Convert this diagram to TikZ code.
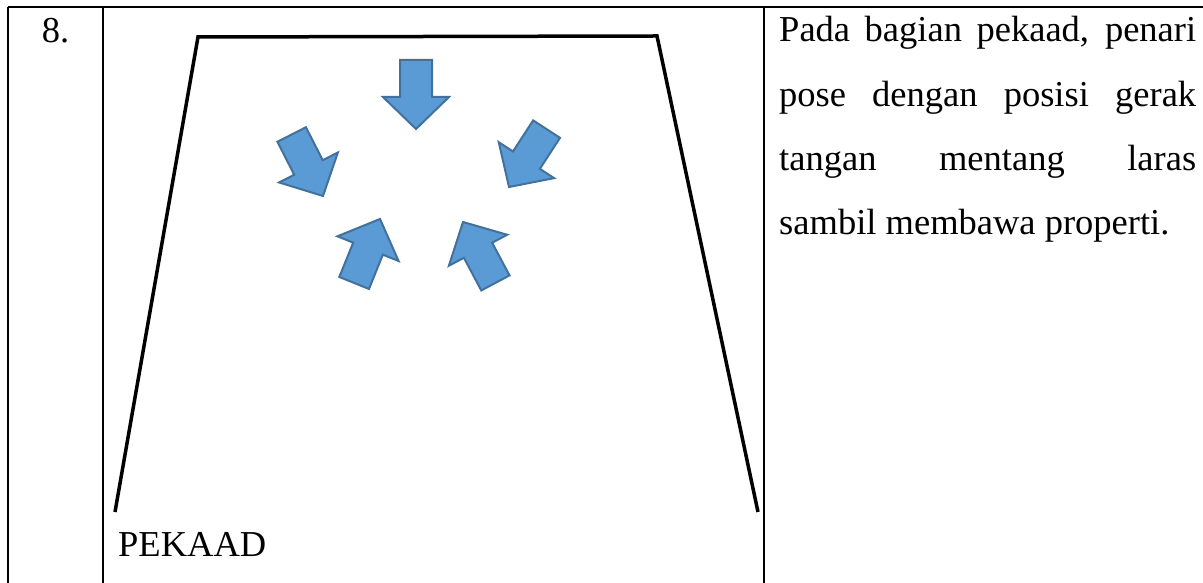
\documentclass[tikz,border=0pt]{standalone}
\usepackage{fontspec}
\setmainfont{Liberation Serif}
\definecolor{arrfill}{HTML}{5B9BD5}
\definecolor{arrline}{HTML}{41719C}
\tikzset{
  tablerule/.style={line width=2.2pt, black},
  stageline/.style={line width=3.5pt, black, line join=miter},
  arrowstyle/.style={fill=arrfill, draw=arrline, line width=2pt},
  txt/.style={inner sep=0pt, font=\fontsize{36.5}{44}\selectfont},
  inarrow/.pic={\draw[arrowstyle] (0,0) -- (-32,33) -- (-32,16) -- (-69,16) -- (-69,-16) -- (-32,-16) -- (-32,-33) -- cycle;}
}
\begin{document}
\begin{tikzpicture}[x=1pt,y=1pt]
\useasboundingbox (0,0) rectangle (1203,583);
% table rules
\coordinate (tl) at (8,576);
\coordinate (tr) at (1203,576);
\coordinate (c1t) at (103,576);
\coordinate (c2t) at (764,576);
\coordinate (bl) at (8,0);
\coordinate (c1b) at (103,0);
\coordinate (c2b) at (764,0);
\draw[tablerule] (tl) -- (tr);
\draw[tablerule] (tl) -- (bl);
\draw[tablerule] (c1t) -- (c1b);
\draw[tablerule] (c2t) -- (c2b);
% stage trapezoid
\coordinate (sbl) at (115,71);
\coordinate (stl) at (198,546);
\coordinate (str) at (657,547);
\coordinate (sbr) at (758,71);
\draw[stageline] (sbl) -- (stl) -- (str) -- (sbr);
% arrows
\pic[rotate=-90] at (416,454) {inarrow};
\pic[rotate=-63] at (323,387) {inarrow};
\pic[rotate=-123] at (509,396) {inarrow};
\pic[rotate=68] at (380,364) {inarrow};
\pic[rotate=118] at (463,361) {inarrow};
% texts
\node[txt, anchor=base] (num) at (55.5,540) {8.};
\node[txt, anchor=base west] (pekaad) at (118,26) {PEKAAD};
\node[txt, anchor=base west] (l1) at (779,541) {\makebox[417pt][s]{Pada bagian pekaad, penari}};
\node[txt, anchor=base west] (l2) at (779,476.7) {\makebox[417pt][s]{pose dengan posisi gerak}};
\node[txt, anchor=base west] (l3) at (779,412.4) {\makebox[417pt][s]{tangan mentang laras}};
\node[txt, anchor=base west] (l4) at (779,348) {sambil membawa properti.};
\end{tikzpicture}
\end{document}
